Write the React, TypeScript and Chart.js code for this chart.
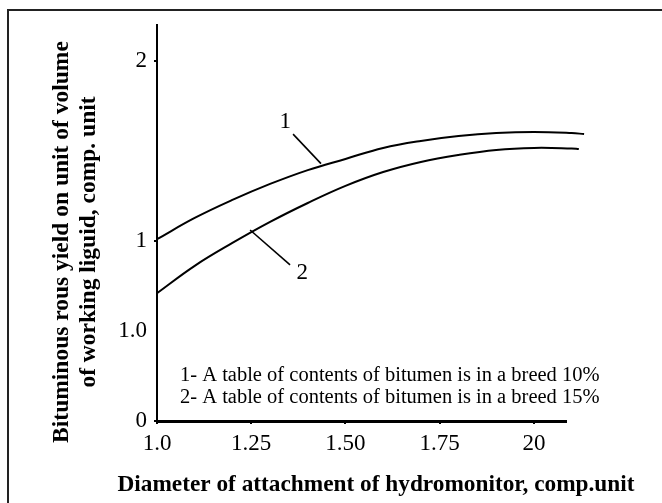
import React, { useEffect, useRef } from "react";
import { Chart, registerables } from "chart.js";
Chart.register(...registerables);

const xValues1 = [1.0, 1.1, 1.2, 1.3, 1.4, 1.5, 1.6, 1.7, 1.8, 1.9, 2.0, 2.1, 2.133];
const series1 = [1.01, 1.128, 1.228, 1.317, 1.394, 1.456, 1.517, 1.556, 1.583, 1.6, 1.606, 1.6, 1.594];
const xValues2 = [1.0, 1.1, 1.2, 1.3, 1.4, 1.5, 1.6, 1.7, 1.8, 1.9, 2.0, 2.1, 2.119];
const series2 = [0.71, 0.862, 0.989, 1.106, 1.211, 1.306, 1.383, 1.439, 1.478, 1.506, 1.517, 1.514, 1.511];

const xTickValues = [1.0, 1.25, 1.5, 1.75, 2.0];
const xTickLabels = ["1.0", "1.25", "1.50", "1.75", "20"];
const yTickValues = [0, 0.5, 1, 2];
const yTickLabels = ["0", "1.0", "1", "2"];

const curveLabels = ["1", "2"];
const curveLabelX = [1.34, 1.385];
const curveLabelY = [1.66, 0.822];
const leaderFromX = [1.361, 1.247];
const leaderFromY = [1.594, 1.061];
const leaderToX = [1.435, 1.353];
const leaderToY = [1.43, 0.867];

const legendLines = [
  "1- A table of contents of bitumen is in a breed 10%",
  "2- A table of contents of bitumen is in a breed 15%",
];
const xTitle = "Diameter of attachment of hydromonitor, comp.unit";
const yTitleLines = ["Bituminous rous yield on unit of volume", "of working liguid, comp. unit"];

const SERIF = "'Liberation Serif', 'Times New Roman', serif";

const overlayPlugin = {
  id: "overlay",
  afterDraw(chart: any) {
    const ctx = chart.ctx as CanvasRenderingContext2D;
    const xs = chart.scales.x;
    const ys = chart.scales.y;
    ctx.save();
    // frame (top and left edges, box runs past the image)
    ctx.strokeStyle = "#222";
    ctx.lineWidth = 2;
    ctx.beginPath();
    ctx.moveTo(8, 503);
    ctx.lineTo(8, 10);
    ctx.lineTo(662, 10);
    ctx.stroke();

    // leader lines and curve labels
    ctx.strokeStyle = "#000";
    ctx.lineWidth = 1.6;
    for (let i = 0; i < curveLabels.length; i++) {
      ctx.beginPath();
      ctx.moveTo(xs.getPixelForValue(leaderFromX[i]), ys.getPixelForValue(leaderFromY[i]));
      ctx.lineTo(xs.getPixelForValue(leaderToX[i]), ys.getPixelForValue(leaderToY[i]));
      ctx.stroke();
      ctx.fillStyle = "#000";
      ctx.font = `23px ${SERIF}`;
      ctx.textAlign = "center";
      ctx.textBaseline = "middle";
      ctx.fillText(curveLabels[i], xs.getPixelForValue(curveLabelX[i]), ys.getPixelForValue(curveLabelY[i]));
    }

    // legend text
    ctx.font = `20.5px ${SERIF}`;
    ctx.textAlign = "left";
    ctx.textBaseline = "middle";
    ctx.fillText(legendLines[0], 180, 376);
    ctx.fillText(legendLines[1], 180, 398);

    // x title
    ctx.font = `bold 23.3px ${SERIF}`;
    ctx.textAlign = "center";
    ctx.fillText(xTitle, 376, 485);

    // y title
    ctx.font = `bold 23.5px ${SERIF}`;
    ctx.translate(0, 242);
    ctx.rotate(-Math.PI / 2);
    ctx.fillText(yTitleLines[0], 0, 62);
    ctx.fillText(yTitleLines[1], 0, 89);
    ctx.restore();
  },
};

export default function App() {
  const ref = useRef<HTMLCanvasElement>(null);
  useEffect(() => {
    if (!ref.current) return;
    // points are fed right-to-left so the whole curve is drawn past the axis end
    const pts1 = xValues1.map((x, i) => ({ x, y: series1[i] })).reverse();
    const pts2 = xValues2.map((x, i) => ({ x, y: series2[i] })).reverse();
    const chart = new Chart(ref.current, {
      type: "line",
      data: {
        datasets: [
          { data: pts1, borderColor: "#000", borderWidth: 2, pointRadius: 0, tension: 0.4, clip: false as any, fill: false },
          { data: pts2, borderColor: "#000", borderWidth: 2, pointRadius: 0, tension: 0.4, clip: false as any, fill: false },
        ],
      },
      options: {
        animation: false,
        responsive: false,
        devicePixelRatio: 1,
        layout: { padding: { left: 0, top: 25, right: 96, bottom: 0 } },
        plugins: { legend: { display: false }, tooltip: { enabled: false } },
        scales: {
          x: {
            type: "linear",
            min: 1.0,
            max: 2.085,
            afterFit: (s: any) => { s.height = 82; },
            afterBuildTicks: (s: any) => { s.ticks = xTickValues.map((v) => ({ value: v })); },
            ticks: {
              color: "#000",
              font: { family: SERIF, size: 23 },
              padding: 6,
              maxRotation: 0,
              callback: (v: any) => { const i = xTickValues.indexOf(Number(v)); return i >= 0 ? xTickLabels[i] : ""; },
            },
            grid: { display: true, drawOnChartArea: false, drawTicks: true, tickLength: 3, color: "#000", lineWidth: 2 },
            border: { display: true, color: "#000", width: 3 },
          },
          y: {
            type: "linear",
            min: 0,
            max: 2.2,
            afterFit: (s: any) => { s.width = 157; },
            afterBuildTicks: (s: any) => { s.ticks = yTickValues.map((v) => ({ value: v })); },
            ticks: {
              color: "#000",
              font: { family: SERIF, size: 23 },
              padding: 7,
              callback: (v: any) => { const i = yTickValues.indexOf(Number(v)); return i >= 0 ? yTickLabels[i] : ""; },
            },
            grid: {
              display: true,
              drawOnChartArea: false,
              drawTicks: true,
              tickLength: 3,
              color: (c: any) => (c.tick && c.tick.value === 0.5 ? "rgba(0,0,0,0)" : "#000"),
              lineWidth: 2,
            },
            border: { display: true, color: "#000", width: 2 },
          },
        },
      },
      plugins: [overlayPlugin],
    } as any);
    return () => chart.destroy();
  }, []);
  return (
    <div style={{ position: "fixed", left: 0, top: 0, width: 662, height: 503, background: "#fff" }}>
      <canvas ref={ref} width={662} height={503} style={{ display: "block" }} />
    </div>
  );
}
